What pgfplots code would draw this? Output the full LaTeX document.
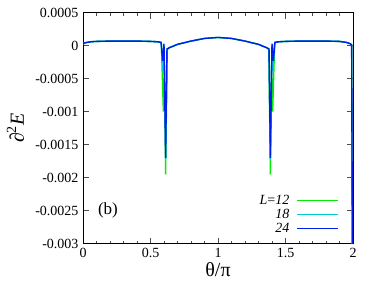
\documentclass[border=0pt]{standalone}
\usepackage{fontspec}
\setmainfont{Liberation Serif}
\usepackage{pgfplots}
\pgfplotsset{compat=1.18}
\usepackage{pgfplotstable}
\definecolor{cgreen}{RGB}{0,235,0}
\definecolor{ccyan}{RGB}{0,205,215}
\definecolor{cblue}{RGB}{0,30,235}

\pgfplotstableread{
x y
0.000 0.00002
0.010 0.00004
0.030 0.00005
0.060 0.00006
0.100 0.000065
0.200 0.00007
0.300 0.00007
0.400 0.00007
0.500 0.000065
0.550 0.00006
0.580 0.00005
0.595 -0.00100
0.603 -0.00030
0.612 -0.00195
0.624 -0.00006
0.640 -0.00003
0.700 0.00002
0.800 0.00007
0.900 0.00011
1.000 0.000125
1.100 0.00011
1.200 0.00007
1.300 0.00002
1.360 -0.00003
1.376 -0.00006
1.388 -0.00195
1.397 -0.00030
1.405 -0.00100
1.420 0.00005
1.450 0.00006
1.500 0.000065
1.600 0.00007
1.700 0.00007
1.800 0.00007
1.900 0.000065
1.950 0.00005
1.980 0.00003
1.990 0.00001
2.000 -0.00600
}\tabA

\pgfplotstableread{
x y
0.000 0.00002
0.010 0.00004
0.030 0.00005
0.060 0.00006
0.100 0.000065
0.200 0.00007
0.300 0.00007
0.400 0.00007
0.500 0.000065
0.550 0.00006
0.580 0.00005
0.592 -0.00038
0.601 0.00000
0.612 -0.00172
0.623 -0.00005
0.640 -0.00003
0.700 0.00002
0.800 0.00007
0.900 0.00011
1.000 0.000125
1.100 0.00011
1.200 0.00007
1.300 0.00002
1.360 -0.00003
1.377 -0.00005
1.388 -0.00172
1.399 0.00000
1.408 -0.00038
1.420 0.00005
1.450 0.00006
1.500 0.000065
1.600 0.00007
1.700 0.00007
1.800 0.00007
1.900 0.000065
1.950 0.00005
1.980 0.00003
1.990 0.00001
2.000 -0.00600
}\tabB

\pgfplotstableread{
x y
0.000 0.00002
0.010 0.00004
0.030 0.00005
0.060 0.00006
0.100 0.000065
0.200 0.00007
0.300 0.00007
0.400 0.00007
0.500 0.000065
0.550 0.00006
0.578 0.00005
0.590 -0.00023
0.600 0.00003
0.612 -0.00170
0.622 -0.00005
0.640 -0.00003
0.700 0.00002
0.800 0.00007
0.900 0.00011
1.000 0.000125
1.100 0.00011
1.200 0.00007
1.300 0.00002
1.360 -0.00003
1.378 -0.00005
1.388 -0.00170
1.400 0.00003
1.410 -0.00023
1.422 0.00005
1.450 0.00006
1.500 0.000065
1.600 0.00007
1.700 0.00007
1.800 0.00007
1.900 0.000065
1.950 0.00005
1.980 0.00003
1.990 0.00001
2.000 -0.00600
}\tabC

\begin{document}
\begin{tikzpicture}
\path[use as bounding box] (0,0) rectangle (374pt,281pt);
\begin{axis}[
  at={(83pt,37.3pt)}, anchor=south west,
  scale only axis, width=270pt, height=231pt,
  xmin=0, xmax=2, ymin=-0.003, ymax=0.0005,
  axis line style={line width=0.8pt, black},
  tick align=inside,
  major tick length=6pt, minor tick length=3pt,
  tick style={line width=0.6pt, black!70},
  xtick={0,0.5,1,1.5,2},
  xticklabels={0,0.5,1,1.5,2},
  minor x tick num=4,
  ytick={-0.003,-0.0025,-0.002,-0.0015,-0.001,-0.0005,0,0.0005},
  yticklabels={-0.003,-0.0025,-0.002,-0.0015,-0.001,-0.0005,0,0.0005},
  scaled y ticks=false, scaled x ticks=false,
  ticklabel style={font=\fontsize{14}{14}\selectfont},
  yticklabel style={xshift=-1pt},
  xticklabel style={yshift=-1pt},
  xlabel={θ/π},
  xlabel style={font=\fontsize{20}{20}\selectfont, at={(axis description cs:0.5,-0.112)}, anchor=center},
  ylabel={∂\textsuperscript{2}\textit{E}},
  ylabel style={font=\fontsize{20}{20}\selectfont, at={(axis description cs:-0.25,0.5)}, anchor=center, rotate=0},
  legend plot pos=right,
  legend cell align=right,
  legend image code/.code={\draw[#1] (0pt,0pt) -- (41pt,0pt);},
  legend style={draw=none, fill=none, inner sep=0pt,
    at={(axis description cs:0.948,0.217)}, anchor=north east,
    font=\fontsize{14}{14}\selectfont,
    nodes={inner sep=1pt, text height=9.5pt, text depth=2.5pt},
    column sep=6pt, row sep=0pt},
]
\addplot[cgreen, line width=1.3pt] table[x=x,y=y] {\tabA};
\addlegendentry{\textit{L}=\textit{12}}
\addplot[ccyan, line width=1.3pt] table[x=x,y=y] {\tabB};
\addlegendentry{\textit{18}}
\addplot[cblue, line width=1.4pt] table[x=x,y=y] {\tabC};
\addlegendentry{\textit{24}}
\node[font=\fontsize{17}{17}\selectfont] at (axis cs:0.185,-0.0025) {(b)};
\end{axis}
\end{tikzpicture}
\end{document}
